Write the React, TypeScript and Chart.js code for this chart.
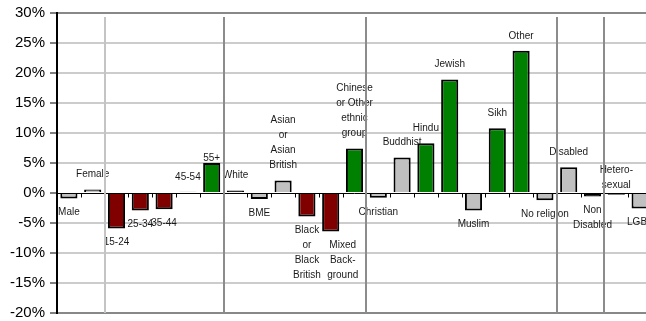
import React, { useEffect, useRef } from "react";
import { Chart, registerables } from "chart.js";

Chart.register(...registerables);

const CATEGORIES = [
  "Male", "Female", "15-24", "25-34", "35-44", "45-54", "55+",
  "White", "BME", "Asian or Asian British", "Black or Black British",
  "Mixed Background", "Chinese or Other ethnic group",
  "Christian", "Buddhist", "Hindu", "Jewish", "Muslim", "Sikh", "Other", "No religion",
  "Disabled", "Non Disabled", "Hetero-sexual", "LGBT",
];

const LABEL_LINES = [
  "Male", "Female", "15-24", "25-34", "35-44", "45-54", "55+",
  "White", "BME", "Asian\nor\nAsian\nBritish", "Black\nor\nBlack\nBritish",
  "Mixed\nBack-\nground", "Chinese\nor Other\nethnic\ngroup",
  "Christian", "Buddhist", "Hindu", "Jewish", "Muslim", "Sikh", "Other", "No religion",
  "Disabled", "Non\nDisabled", "Hetero-\nsexual", "LGBT",
];

const VALUES = [
  -0.9, 0.6, -5.9, -2.9, -2.7, 0.2, 5.0,
  0.4, -1.0, 2.1, -3.9, -6.4, 7.4,
  -0.8, 5.9, 8.3, 18.9, -2.9, 10.8, 23.7, -1.2,
  4.3, -0.6, -0.3, -2.6,
];

const G = "#c0c0c0";
const R = "#800000";
const N = "#008000";
const K = "#000000";
const BAR_COLORS = [
  G, G, R, R, R, K, N,
  K, G, G, R, R, N,
  G, G, N, N, G, N, N, G,
  G, K, K, G,
];

const Y_MIN = -20;
const Y_MAX = 30;
const Y_STEP = 5;

// index of last category in each group (separator drawn after it)
const GROUP_ENDS = [1, 6, 12, 20, 22];

// label layout tweaks (style only)
const LABEL_NUDGE: Record<string, { dx?: number; dy?: number; above?: boolean }> = {
  "55+": { dy: 10 },
  "Mixed Background": { dx: 12 },
  "Hetero-sexual": { dy: 6, above: true },
};

const FONT = '"Liberation Sans", Arial, sans-serif';

const overlayPlugin = {
  id: "overlay",
  beforeDatasetsDraw(chart: any) {
    const { ctx, chartArea, scales } = chart;
    const x = scales.x;
    const y = scales.y;
    const y0 = Math.round(y.getPixelForValue(0)) + 0.5;
    ctx.save();
    ctx.strokeStyle = "#000";
    ctx.lineWidth = 1;
    ctx.beginPath();
    ctx.moveTo(chartArea.left, y0);
    ctx.lineTo(chartArea.right, y0);
    for (let i = 1; i <= CATEGORIES.length; i++) {
      const bx = Math.round((x.getPixelForValue(i - 1) + x.getPixelForValue(i)) / 2) + 0.5;
      ctx.moveTo(bx, y0);
      ctx.lineTo(bx, y0 + 4);
    }
    ctx.stroke();
    ctx.restore();
  },
  afterDatasetsDraw(chart: any) {
    const { ctx, chartArea, scales } = chart;
    const x = scales.x;
    const meta = chart.getDatasetMeta(0);
    ctx.save();
    ctx.font = `10px ${FONT}`;
    ctx.fillStyle = "#1a1a1a";
    ctx.textAlign = "center";
    ctx.textBaseline = "middle";
    const lh = 15;
    meta.data.forEach((bar: any, i: number) => {
      const name = CATEGORIES[i];
      const lines = LABEL_LINES[i].split("\n");
      const nudge = LABEL_NUDGE[name] || {};
      const v = VALUES[i];
      const above = nudge.above ?? v >= 0;
      const top = Math.min(bar.y, bar.base);
      const bottom = Math.max(bar.y, bar.base);
      const cx = bar.x + (nudge.dx || 0);
      let startY: number;
      if (above) {
        startY = top - 15 - (lines.length - 1) * lh;
      } else {
        startY = bottom + 14;
      }
      startY += nudge.dy || 0;
      lines.forEach((ln, k) => ctx.fillText(ln, cx, startY + k * lh));
    });
    // group separators
    GROUP_ENDS.forEach((idx, k) => {
      const bx = Math.round((x.getPixelForValue(idx) + x.getPixelForValue(idx + 1)) / 2);
      ctx.strokeStyle = k === 0 ? "#c4c4c4" : "#8c8c8c";
      ctx.lineWidth = 2;
      ctx.beginPath();
      ctx.moveTo(bx, chartArea.top + 4);
      ctx.lineTo(bx, chartArea.bottom);
      ctx.stroke();
    });
    ctx.restore();
  },
};

export default function App() {
  const ref = useRef<HTMLCanvasElement | null>(null);
  useEffect(() => {
    if (!ref.current) return;
    const chart = new Chart(ref.current, {
      type: "bar",
      data: {
        labels: CATEGORIES,
        datasets: [
          {
            data: VALUES,
            backgroundColor: BAR_COLORS,
            borderColor: "#000",
            borderWidth: 2,
            barPercentage: 0.72,
            categoryPercentage: 1,
          },
        ],
      },
      options: {
        responsive: false,
        animation: false,
        devicePixelRatio: 1,
        layout: { padding: { top: 13, bottom: 8, left: 0, right: 8 } },
        plugins: {
          legend: { display: false },
          tooltip: { enabled: false },
          title: { display: false },
        },
        scales: {
          x: {
            display: false,
            offset: true,
          },
          y: {
            min: Y_MIN,
            max: Y_MAX,
            afterFit: (s: any) => {
              s.width = 57;
              s.paddingTop = 0;
              s.paddingBottom = 0;
            },
            ticks: {
              stepSize: Y_STEP,
              padding: 5,
              color: "#000",
              font: { family: FONT, size: 15 },
              callback: (v: any) => `${v}%`,
            },
            grid: {
              color: (c: any) =>
                c.tick && (c.tick.value === Y_MAX || c.tick.value === Y_MIN)
                  ? "#888888"
                  : c.tick && c.tick.value === 0
                  ? "rgba(0,0,0,0)"
                  : "#cccccc",
              lineWidth: 2,
              tickColor: "#000",
              tickWidth: 1,
              tickLength: 7,
            },
            border: { display: true, color: "#000", width: 2 },
          },
        },
      },
      plugins: [overlayPlugin],
    } as any);
    return () => chart.destroy();
  }, []);
  return (
    <div
      style={{
        position: "fixed",
        left: 0,
        top: 0,
        width: 646,
        height: 321,
        overflow: "hidden",
        background: "#fff",
      }}
    >
      <canvas ref={ref} width={660} height={321} style={{ display: "block" }} />
    </div>
  );
}
